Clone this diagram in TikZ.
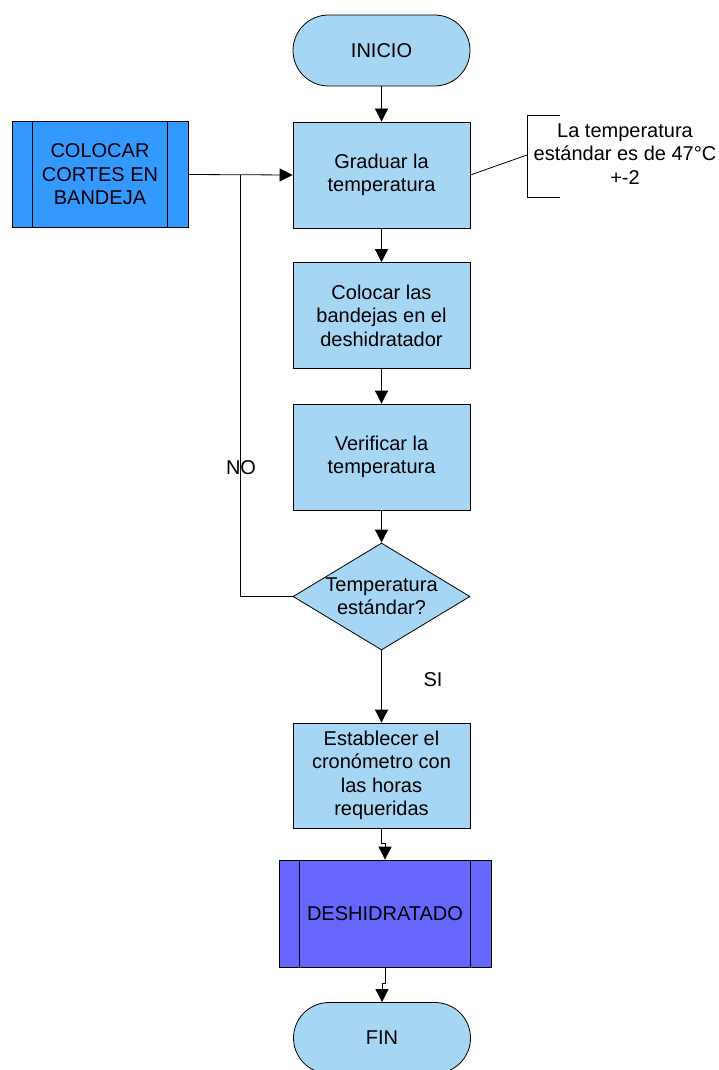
\documentclass[tikz,border=0pt]{standalone}
\usepackage{fontspec}
\setmainfont{Liberation Sans}
\usetikzlibrary{shapes.geometric,arrows.meta,calc}
\definecolor{lblue}{RGB}{166,214,243}
\definecolor{mblue}{RGB}{51,153,255}
\definecolor{vblue}{RGB}{102,102,255}
\begin{document}
\begin{tikzpicture}[x=1pt,y=-1pt,
  font=\fontsize{20}{23.5}\selectfont,
  line width=0.8pt,
  boxstyle/.style={draw=black,fill=lblue,minimum width=177pt,minimum height=106pt,align=center,inner sep=0pt},
  termstyle/.style={draw=black,fill=lblue,minimum width=177pt,minimum height=71pt,rounded corners=35.5pt,inner sep=0pt},
  procstyle/.style={draw=black,minimum height=106pt,align=center,inner sep=0pt},
  arr/.style={-{Triangle[width=13pt,length=13pt]}},
  lbl/.style={inner sep=0pt,align=center}]
\clip (0,0) rectangle (719,1070);
\node[termstyle] (ini) at (381.5,50.5) {INICIO};
\node[boxstyle] (grad) at (381.5,175) {Graduar la\\temperatura};
\node[procstyle,fill=mblue,minimum width=176pt] (col) at (100,174.5) {COLOCAR\\CORTES EN\\BANDEJA};
\draw ([xshift=21pt]col.north west) -- ([xshift=21pt]col.south west);
\draw ([xshift=-21pt]col.north east) -- ([xshift=-21pt]col.south east);
\node[boxstyle] (band) at (381.5,315.5) {Colocar las\\bandejas en el\\deshidratador};
\node[boxstyle] (ver) at (381.5,457) {Verificar la\\temperatura};
\node[draw=black,fill=lblue,diamond,minimum width=177pt,minimum height=107pt,inner sep=0pt] (dec) at (381.5,596.5) {};
\node[lbl] (dect) at (381.5,596) {Temperatura\\estándar?};
\node[boxstyle,minimum height=105pt] (est) at (381.5,775.5) {Establecer el\\cronómetro con\\las horas\\requeridas};
\node[procstyle,fill=vblue,minimum width=212pt,minimum height=107pt] (desh) at (385,913.5) {DESHIDRATADO};
\draw ([xshift=21pt]desh.north west) -- ([xshift=21pt]desh.south west);
\draw ([xshift=-21pt]desh.north east) -- ([xshift=-21pt]desh.south east);
\node[termstyle] (fin) at (382,1038) {FIN};
% annotation
\coordinate (brt) at (560,115);
\coordinate (brm) at (527,155);
\coordinate (brb) at (560,197);
\draw (brt) -- (527,115) -- (527,197) -- (brb);
\draw (grad.east) -- (brm);
\node[lbl] (ann) at (625,154) {La temperatura\\estándar es de 47°C\\+-2};
% connectors
\draw[arr] (ini) -- (grad);
\draw[arr] (col.east) -- (grad.west);
\coordinate (loop) at (240,175);
\draw (dec.west) -| (loop);
\draw[arr] (grad) -- (band);
\draw[arr] (band) -- (ver);
\draw[arr] (ver) -- (dec.north);
\draw[arr] (dec.south) -- (est.north);
\draw[arr] (est.south) -- ++(0,15) -| (desh.north);
\draw[arr] (desh.south) -- ++(0,16) -| (fin.north);
\node[lbl] (no) at (241,468) {NO};
\node[lbl] (si) at (433,680) {SI};
\end{tikzpicture}
\end{document}
